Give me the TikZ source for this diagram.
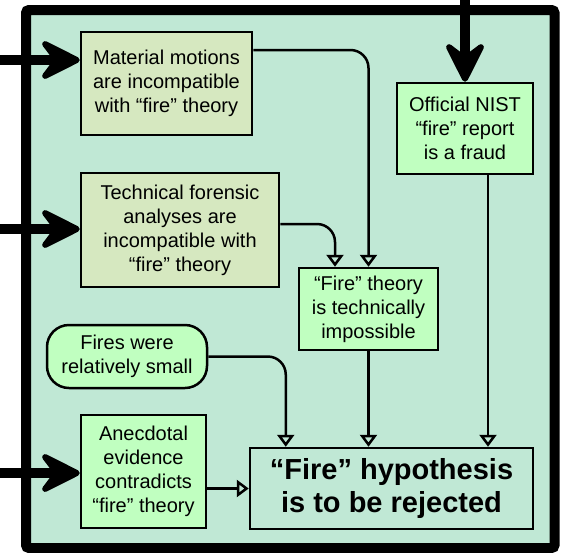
\documentclass[tikz,border=0pt]{standalone}
\usepackage{fontspec}
\setmainfont{Liberation Sans}
\usepackage{tikz}
\usetikzlibrary{shapes, arrows.meta}
\definecolor{panel}{HTML}{C0E8D5}
\definecolor{olive}{HTML}{D6E8C0}
\definecolor{mint}{HTML}{C0FFC0}
\tikzstyle{evidence} = [rectangle, align=center, inner sep=0pt, draw=black, line width=2.5pt, fill=olive, font=\fontsize{20}{24}\selectfont]
\tikzstyle{statement} = [rectangle, align=center, inner sep=0pt, draw=black, line width=2.5pt, fill=mint, font=\fontsize{20}{24}\selectfont]
\tikzstyle{remark} = [statement, rounded corners=22pt]
\tikzstyle{verdict} = [statement, fill=panel, font=\fontsize{29}{33}\selectfont\bfseries]
\tikzstyle{edge} = [line width=2.5pt, rounded corners=18pt, -{Triangle[open, length=12pt, width=17pt]}]
\tikzstyle{feed} = [line width=10pt, -{Stealth[length=48pt, width=48pt, inset=18pt, line width=6pt, round]}]

\begin{document}
\begin{tikzpicture}[x=1pt, y=-1pt, node distance=100pt]

\useasboundingbox (0,0) rectangle (564,552);
\draw [line width=10pt, rounded corners=3pt, fill=panel] (26,10) rectangle (554.5,548);

\node (0) [evidence, minimum width=171pt, minimum height=103pt] at (166.5,83.5) {Material motions\\are incompatible\\with “fire” theory};
\node (1) [evidence, minimum width=198pt, minimum height=114pt, below of=0, yshift=-46.5pt, xshift=13.5pt] {Technical forensic\\analyses are\\incompatible with\\“fire” theory};
\node (2) [statement, minimum width=136pt, minimum height=91pt, right of=0, xshift=198.5pt, yshift=-45pt] {Official NIST\\“fire” report\\is a fraud};
\node (3) [statement, minimum width=139pt, minimum height=82pt, below of=2, yshift=-80.5pt, xshift=-96.5pt] {“Fire” theory\\is technically\\impossible};
\node (4) [remark, minimum width=160pt, minimum height=63pt, below of=1, yshift=-26.5pt, xshift=-53pt] {Fires were\\relatively small};
\node (5) [statement, minimum width=125pt, minimum height=113pt, below of=4, yshift=-15pt, xshift=16.5pt] {Anecdotal\\evidence\\contradicts\\“fire” theory};
\node (6) [verdict, minimum width=283pt, minimum height=81pt, right of=5, xshift=148pt, yshift=-17pt] {“Fire” hypothesis\\is to be rejected};

\coordinate (s0) at (0,60);
\coordinate (s1) at (0,229);
\coordinate (s2) at (465,0);
\coordinate (s5) at (0,473);

\draw [feed] (s0) -- (s0 -| 0.west);
\draw [feed] (s1) -- (s1 -| 1.west);
\draw [feed] (s2) -- (s2 |- 2.north);
\draw [feed] (s5) -- (s5 -| 5.west);

\draw [edge] ([yshift=33.5pt]0.east) -| (3.north);
\draw [edge] ([yshift=6pt]1.east) -| ([xshift=-33.5pt]3.north);
\draw [edge] (4.east) -| ([xshift=37pt]6.north west);
\draw [edge] (3.south) -- (3.south |- 6.north);
\draw [edge] ([xshift=23pt]2.south) -- ([xshift=23pt]2.south |- 6.north);
\draw [edge] (5.east |- 6.west) -- (6.west);

\end{tikzpicture}
\end{document}
